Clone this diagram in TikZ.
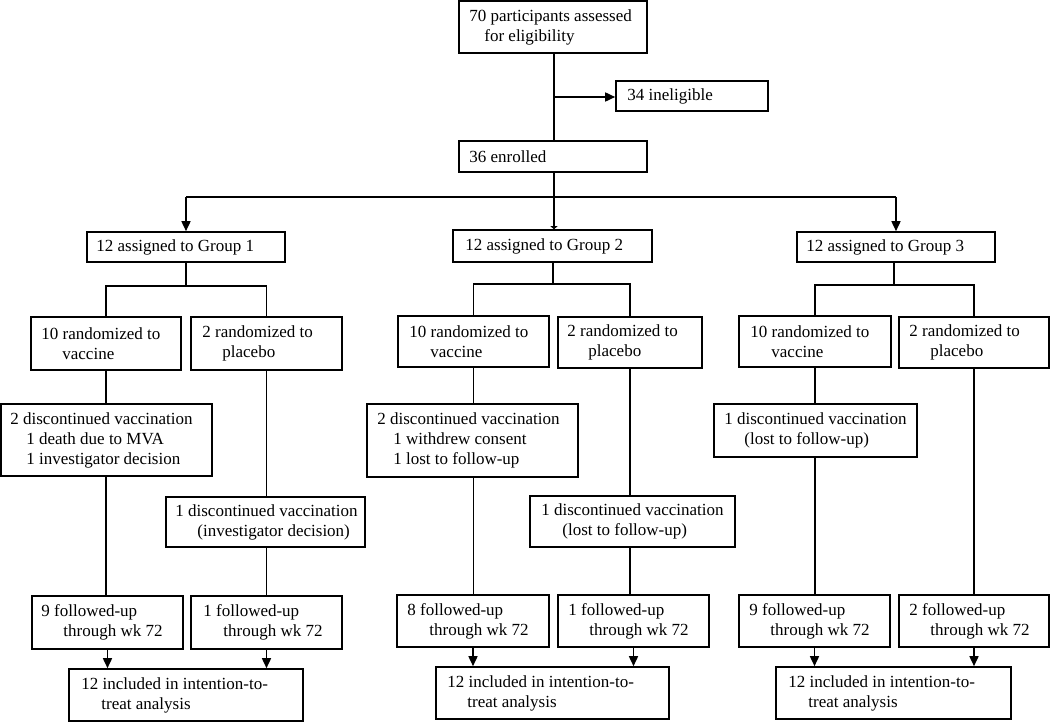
\documentclass[tikz,border=0pt]{standalone}
\usepackage{fontspec}
\setmainfont{Liberation Serif}
\usetikzlibrary{arrows.meta}
\tikzset{
  box/.style={draw, line width=1.6pt, inner sep=0pt},
  txt/.style={inner sep=0pt, align=left, font=\fontsize{17}{20}\selectfont},
  conn/.style={line width=1.6pt},
  arr/.style={line width=1.6pt, -{Triangle[length=10pt,width=9pt]}},
}
\newcommand\bx[7]{%
  \pgfmathsetmacro\bxcx{(#2+#4)/2}%
  \pgfmathsetmacro\bxcy{(#3+#5)/2}%
  \pgfmathsetmacro\bxw{#4-#2}%
  \pgfmathsetmacro\bxh{#5-#3}%
  \node[box, minimum width=\bxw pt, minimum height=\bxh pt,
        label={[txt, anchor=west, xshift=#6pt]west:{#7}}] (#1) at (\bxcx,\bxcy) {};}
\newcommand\ind[1]{\hspace*{#1pt}}
\begin{document}
\begin{tikzpicture}[x=1pt,y=-1pt]
\useasboundingbox (0,0) rectangle (1050,722);
% top
\bx{top}{459}{1}{647}{53}{11}{70 participants assessed\\\ind{15}for eligibility}
\bx{inel}{616}{81}{768}{111}{12}{34 ineligible}
\bx{enr}{459}{141}{647}{172}{11}{36 enrolled}
% groups
\bx{g1}{87}{232}{285}{262}{10}{12 assigned to Group 1}
\bx{g2}{453}{230}{652}{262}{13}{12 assigned to Group 2}
\bx{g3}{797}{232}{995}{262}{10}{12 assigned to Group 3}
% randomized
\bx{v1}{31}{317}{181}{370}{11}{10 randomized to\\\ind{21}vaccine}
\bx{p1}{191}{317}{342}{370}{12}{2 randomized to\\\ind{20}placebo}
\bx{v2}{398}{316}{549}{367}{12}{10 randomized to\\\ind{21}vaccine}
\bx{p2}{558}{317}{702}{368}{10}{2 randomized to\\\ind{21}placebo}
\bx{v3}{739}{316}{891}{367}{12}{10 randomized to\\\ind{21}vaccine}
\bx{p3}{899}{317}{1049}{368}{11}{2 randomized to\\\ind{21}placebo}
% discontinued
\bx{d1}{1}{404}{212}{476}{10}{2 discontinued vaccination\\\ind{16}1 death due to MVA\\\ind{16}1 investigator decision}
\bx{d2}{367}{404}{578}{477}{11}{2 discontinued vaccination\\\ind{16}1 withdrew consent\\\ind{16}1 lost to follow-up}
\bx{d3}{714}{404}{917}{457}{11}{1 discontinued vaccination\\\ind{20}(lost to follow-up)}
\bx{dp1}{166}{497}{365}{547}{10}{1 discontinued vaccination\\\ind{22}(investigator decision)}
\bx{dp2}{530}{496}{735}{547}{12}{1 discontinued vaccination\\\ind{21}(lost to follow-up)}
% followed-up
\bx{f1a}{32}{596}{183}{649}{10}{9 followed-up\\\ind{22}through wk 72}
\bx{f1b}{191}{596}{342}{649}{13}{1 followed-up\\\ind{20}through wk 72}
\bx{f2a}{397}{595}{549}{647}{11}{8 followed-up\\\ind{22}through wk 72}
\bx{f2b}{558}{595}{709}{647}{11}{1 followed-up\\\ind{21}through wk 72}
\bx{f3a}{739}{595}{890}{647}{11}{9 followed-up\\\ind{21}through wk 72}
\bx{f3b}{899}{595}{1049}{647}{11}{2 followed-up\\\ind{21}through wk 72}
% ITT
\bx{itt1}{69}{669}{303}{721}{13}{12 included in intention-to-\\\ind{20}treat analysis}
\bx{itt2}{436}{667}{669}{719}{12}{12 included in intention-to-\\\ind{20}treat analysis}
\bx{itt3}{776}{667}{1011}{719}{13}{12 included in intention-to-\\\ind{20}treat analysis}

% coordinates
\coordinate (tb) at (554,97);
\coordinate (hb) at (554,197);
\coordinate (h1) at (186,197);
\coordinate (h3) at (896,197);
\coordinate (b1) at (186,286);
\coordinate (b2) at (553,284);
\coordinate (b3) at (894,285);

% top connectors
\draw[conn] (top.south -| tb) -- (enr.north -| tb);
\draw[arr] (tb) -- (inel.west |- tb);
\draw[line width=1.6pt, -{Triangle[length=3pt,width=7pt]}] (enr.south -| hb) -- (g2.north -| hb);
\draw[conn] (h1) -- (h3);
\draw[arr] (h1) -- (g1.north -| h1);
\draw[arr] (h3) -- (g3.north -| h3);

% group 1
\draw[conn] (g1.south -| b1) -- (b1);
\draw[conn] (v1.north) |- (b1) -| (p1.north);
\draw[conn] (v1.south) -- (d1.north -| v1.south);
\draw[conn] (d1.south -| v1.south) -- (f1a.north -| v1.south);
\draw[conn] (p1.south) -- (dp1.north -| p1.south);
\draw[conn] (dp1.south -| p1.south) -- (f1b.north -| p1.south);
\draw[arr] (f1a.south) -- (itt1.north -| f1a.south);
\draw[arr] (f1b.south) -- (itt1.north -| f1b.south);

% group 2
\draw[conn] (g2.south -| b2) -- (b2);
\draw[conn] (v2.north) |- (b2) -| (p2.north);
\draw[conn] (v2.south) -- (d2.north -| v2.south);
\draw[conn] (d2.south -| v2.south) -- (f2a.north -| v2.south);
\draw[conn] (p2.south) -- (dp2.north -| p2.south);
\draw[conn] (dp2.south -| p2.south) -- (f2b.north -| p2.south);
\draw[arr] (f2a.south) -- (itt2.north -| f2a.south);
\draw[arr] (f2b.south) -- (itt2.north -| f2b.south);

% group 3
\draw[conn] (g3.south -| b3) -- (b3);
\draw[conn] (v3.north) |- (b3) -| (p3.north);
\draw[conn] (v3.south) -- (d3.north -| v3.south);
\draw[conn] (d3.south -| v3.south) -- (f3a.north -| v3.south);
\draw[conn] (p3.south) -- (f3b.north -| p3.south);
\draw[arr] (f3a.south) -- (itt3.north -| f3a.south);
\draw[arr] (f3b.south) -- (itt3.north -| f3b.south);
\end{tikzpicture}
\end{document}
